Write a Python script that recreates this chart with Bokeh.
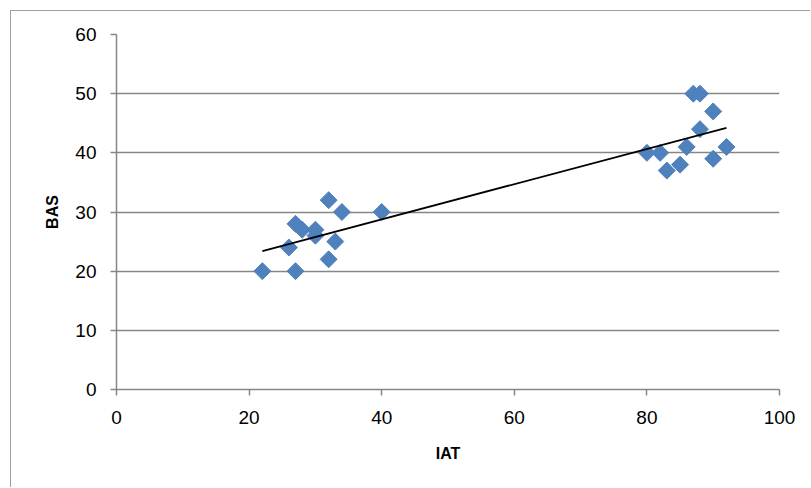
import numpy as np
from bokeh.plotting import figure
from bokeh.models import ColumnDataSource, FixedTicker, Range1d
from bokeh.embed import file_html
from bokeh.resources import INLINE

iat = [22, 27, 26, 27, 28, 30, 30, 32, 33, 32, 34, 40,
       80, 82, 83, 85, 86, 87, 88, 88, 90, 90, 92]
bas = [20, 20, 24, 28, 27, 27, 26, 32, 25, 22, 30, 30,
       40, 40, 37, 38, 41, 50, 50, 44, 47, 39, 41]
x_ticks = [0, 20, 40, 60, 80, 100]
y_ticks = [0, 10, 20, 30, 40, 50, 60]

FONT = "Liberation Sans"
GRAY = "#868686"

p = figure(width=800, height=477, output_backend="svg", toolbar_location=None,
           x_range=Range1d(0, 100), y_range=Range1d(0, 60),
           min_border_left=105, min_border_right=32, min_border_top=23, min_border_bottom=99)
p.outline_line_color = None
p.background_fill_color = "white"
p.border_fill_color = "white"
p.styles = {"margin-left": "10px", "margin-top": "10px",
            "border-left": "1px solid #a0a0a0", "border-top": "1px solid #a0a0a0"}

p.xgrid.grid_line_color = None
p.ygrid.grid_line_color = GRAY
p.ygrid.grid_line_width = 1.5
p.ygrid.ticker = FixedTicker(ticks=y_ticks)

p.xaxis.ticker = FixedTicker(ticks=x_ticks)
p.yaxis.ticker = FixedTicker(ticks=y_ticks)
for ax in (p.xaxis[0], p.yaxis[0]):
    ax.axis_line_color = GRAY
    ax.axis_line_width = 1.5
    ax.major_tick_line_color = GRAY
    ax.major_tick_line_width = 1.5
    ax.major_tick_out = 6
    ax.major_tick_in = 0
    ax.minor_tick_line_color = None
    ax.major_label_text_font = FONT
    ax.major_label_text_font_size = "19px"
    ax.major_label_text_color = "black"
    ax.axis_label_text_font = "Liberation Sans"
    ax.axis_label_text_font_style = "bold"
    ax.axis_label_text_font_size = "16px"
    ax.axis_label_text_color = "black"
p.xaxis.axis_label = "IAT"
p.yaxis.axis_label = "BAS"
p.xaxis.major_label_standoff = 15
p.yaxis.major_label_standoff = 14
p.xaxis.axis_label_standoff = 18
p.yaxis.axis_label_standoff = 11

src = ColumnDataSource(dict(x=iat, y=bas))
p.scatter("x", "y", source=src, marker="square", angle=np.pi / 4, size=12,
          fill_color="#4F81BD", line_color="#4F81BD")

slope, intercept = np.polyfit(iat, bas, 1)
xs = [min(iat), max(iat)]
p.line(xs, [slope * v + intercept for v in xs], line_color="black", line_width=1.8)

open("out.html", "w").write(file_html(p, INLINE))
